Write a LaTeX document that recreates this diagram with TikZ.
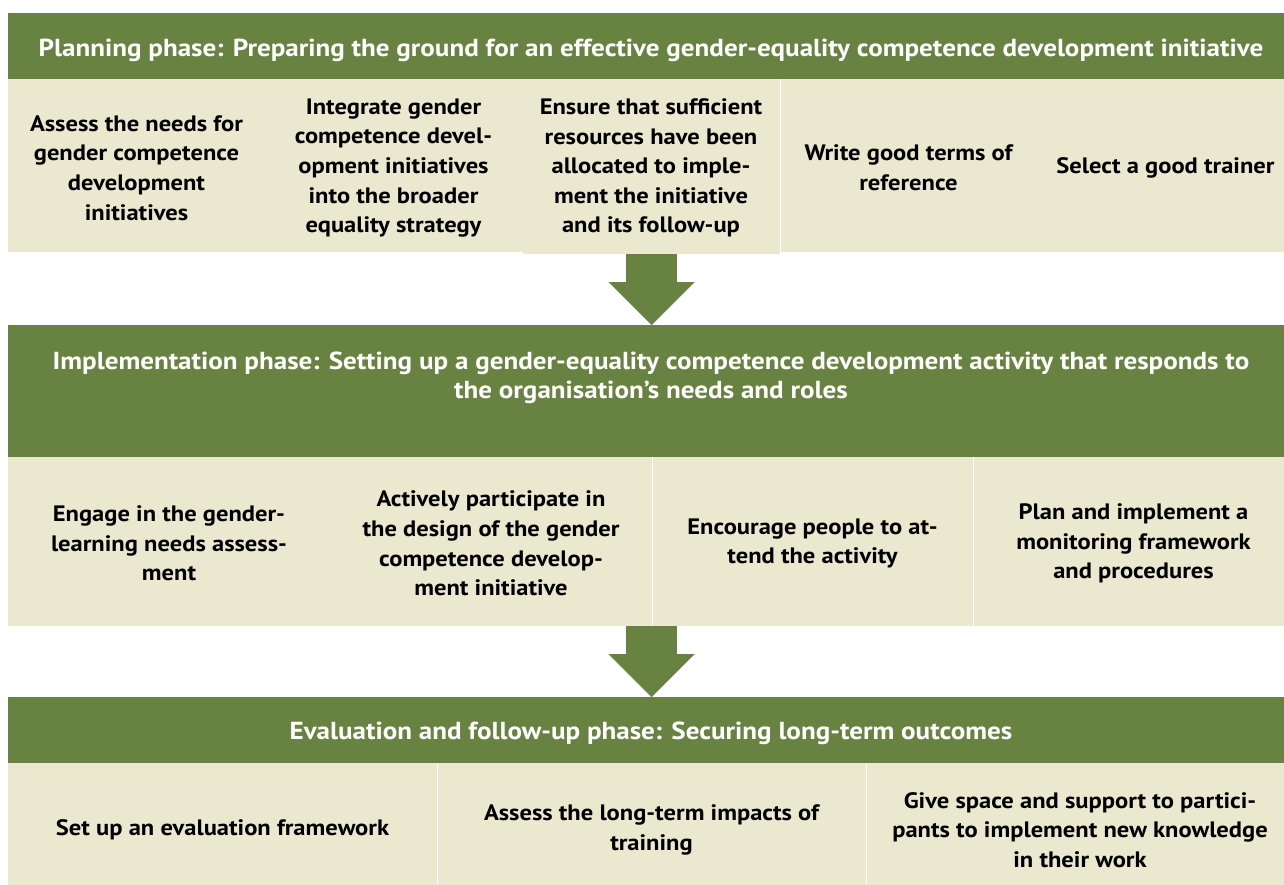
\documentclass[tikz,border=0pt]{standalone}
\usepackage{fontspec}
\setmainfont{PT Sans}[FakeStretch=1.1]
\usetikzlibrary{arrows.meta}
\definecolor{vert}{RGB}{104,130,66}
\definecolor{creme}{RGB}{234,232,207}

\begin{document}
\begin{tikzpicture}[x=1pt,y=-1pt,
	titre/.style={text=white, font=\bfseries\fontsize{24.6}{29}\selectfont, align=center},
	case/.style={font=\bfseries\fontsize{22.3}{29.6}\selectfont, align=center},
	fleche/.style={vert, line width=51pt, -{Triangle[width=86pt,length=43pt,line width=0.01pt]}}]
			\useasboundingbox (0,0) rectangle (1284,884);

			% planning
			\fill[vert] (8,13) rectangle (1294,79);
			\fill[creme] (8,79) rectangle (1294,252);
			\fill[creme] (523,252) rectangle (780,254);
			\draw[white] (780,79) -- (780,252);
			\node[titre] (planning) at (651,50) {Planning phase: Preparing the ground for an effective gender-equality competence development initiative};
			\foreach \x/\txt [count=\i] in {136.5/{Assess the needs for\\gender competence\\development\\initiatives},
				393.5/{Integrate gender\\competence devel-\\opment initiatives\\into the broader\\equality strategy},
				651/{Ensure that sufficient\\resources have been\\allocated to imple-\\ment the initiative\\and its follow-up},
				908.5/{Write good terms of\\reference},
				1165.5/{Select a good trainer}} {
				\node[case] (p\i) at (\x,168) {\txt};
			}

			% implementation
			\fill[vert] (8,325) rectangle (1294,457);
			\fill[creme] (8,457) rectangle (1294,626);
			\draw[white] (652,457) -- (652,626);
			\draw[white] (973,457) -- (973,626);
			\node[titre] (implementation) at (651,378) {Implementation phase: Setting up a gender-equality competence development activity that responds to\\the organisation’s needs and roles};
			\foreach \x/\txt [count=\i] in {169/{Engage in the gender-\\learning needs assess-\\ment},
				491/{Actively participate in\\the design of the gender\\competence develop-\\ment initiative},
				812.5/{Encourage people to at-\\tend the activity},
				1133.5/{Plan and implement a\\monitoring framework\\and procedures}} {
				\node[case] (m\i) at (\x,543.5) {\txt};
			}

			% evaluation
			\fill[vert] (8,697) rectangle (1294,763);
			\fill[creme] (8,763) rectangle (1294,893);
			\draw[white] (437,763) -- (437,893);
			\draw[white] (866,763) -- (866,893);
			\node[titre] (evaluation) at (651,733) {Evaluation and follow-up phase: Securing long-term outcomes};
			\foreach \x/\txt [count=\i] in {222.5/{Set up an evaluation framework},
				651.5/{Assess the long-term impacts of\\training},
				1080/{Give space and support to partici-\\pants to implement new knowledge\\in their work}} {
				\node[case] (e\i) at (\x,830) {\txt};
			}

			% fleches
			\coordinate (a1) at (651.5,254);
			\coordinate (b1) at (651.5,325);
			\coordinate (a2) at (651.5,626);
			\coordinate (b2) at (651.5,697);
			\draw[fleche] (a1) -- (b1);
			\draw[fleche] (a2) -- (b2);
		\end{tikzpicture}
\end{document}
